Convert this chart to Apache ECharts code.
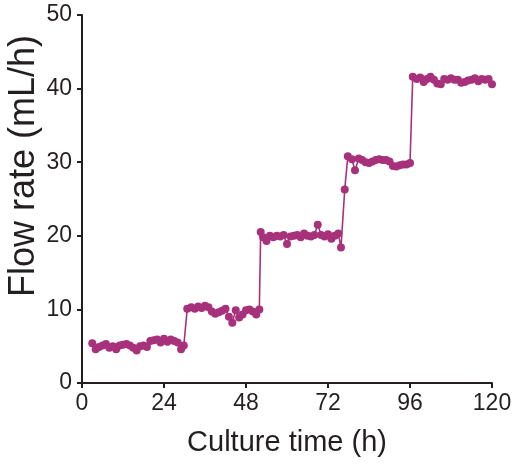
<!DOCTYPE html>
<html>
<head>
<meta charset="utf-8">
<script src="https://cdn.jsdelivr.net/npm/echarts@6/dist/echarts.min.js"></script>
<style>
html,body{margin:0;padding:0;background:#fff;}
#chart{width:513px;height:464px;}
</style>
</head>
<body>
<div id="chart"></div>
<script>
// Culture time (h)
const times = [
  3,4,5,6,7,8,9,10,11,12,13,14,15,16,17,18,19,20,21,22,23,24,25,26,27,28,29,29.8,
  30.8,32,33,34,35,36,37,38,39,40,41,42,43,44,45,46,47,48,49,50,51,51.9,
  52.3,53,54,55,56,57,58,59,60,61,62,63,64,65,66,67,68,69,70,71,72,73,74,75,75.8,
  76.9,77.8,79,79.9,81,82,83,84,85,86,87,88,89,90,91,92,93,94,95,96,
  96.8,98,99,100,101,102,103,104,105,106,107,108,109,110,111,112,113,114,115,116,117,118,119,120
];
// Flow rate (mL/h)
const flowRate = [
  5.4,4.6,4.9,5.1,5.3,4.8,5.0,4.6,5.1,5.2,5.3,5.1,4.8,4.4,5.0,5.1,4.9,5.7,5.8,5.9,5.5,6.0,5.6,5.9,5.7,5.5,4.6,5.1,
  10.1,10.3,10.1,10.4,10.2,10.5,10.3,9.7,9.4,9.6,9.8,10.1,9.0,8.2,9.9,8.9,9.3,9.9,10.0,9.7,9.3,10.0,
  20.5,19.8,19.3,20.0,19.8,20.0,19.9,20.1,18.9,19.9,20.0,20.1,19.8,20.3,20.0,19.9,20.1,21.5,20.1,19.9,20.2,19.6,20.0,20.3,18.4,
  26.3,30.8,30.4,28.9,30.5,30.3,30.0,29.9,30.1,30.3,30.4,30.3,30.3,30.1,29.5,29.4,29.6,29.7,29.7,29.9,
  41.6,41.3,41.5,40.9,41.3,41.6,41.2,40.7,40.6,41.3,41.2,41.4,41.2,41.2,40.8,40.9,41.1,41.2,41.4,41.0,41.3,41.2,41.3,40.6
];
const xTicks = [0,24,48,72,96,120];
const yTicks = [0,10,20,30,40,50];

const data = times.map((t,i)=>[t, flowRate[i]]);
const chart = echarts.init(document.getElementById('chart'));
const axisColor = '#231f20';
const font = 'Liberation Sans, Arial, sans-serif';
chart.setOption({
  animation:false,
  grid:{left:82,right:21,top:15,bottom:81,containLabel:false,outerBoundsMode:'none'},
  xAxis:{
    type:'value', min:xTicks[0], max:xTicks[xTicks.length-1], interval:24,
    name:'Culture time (h)', nameLocation:'middle', nameGap:45, nameMoveOverlap:false,
    nameTextStyle:{fontSize:29,color:axisColor,fontFamily:font},
    axisLine:{show:true,lineStyle:{color:axisColor,width:2}},
    axisTick:{show:true,length:5,lineStyle:{color:axisColor,width:2}},
    axisLabel:{fontSize:23,color:axisColor,fontFamily:font,margin:9},
    splitLine:{show:false}
  },
  yAxis:{
    type:'value', min:yTicks[0], max:yTicks[yTicks.length-1], interval:10,
    name:'Flow rate (mL/h)', nameLocation:'middle', nameGap:40, nameMoveOverlap:false,
    nameTextStyle:{fontSize:36,color:axisColor,fontFamily:font,padding:[0,0,0,66]},
    axisLine:{show:true,lineStyle:{color:axisColor,width:2}},
    axisTick:{show:true,length:5,lineStyle:{color:axisColor,width:2}},
    axisLabel:{fontSize:23,color:axisColor,fontFamily:font,margin:10},
    splitLine:{show:false}
  },
  series:[{
    type:'line', data:data,
    symbol:'circle', symbolSize:8,
    lineStyle:{color:'#a7317b',width:1.6},
    itemStyle:{color:'#a7317b'}
  }]
});
</script>
</body>
</html>
